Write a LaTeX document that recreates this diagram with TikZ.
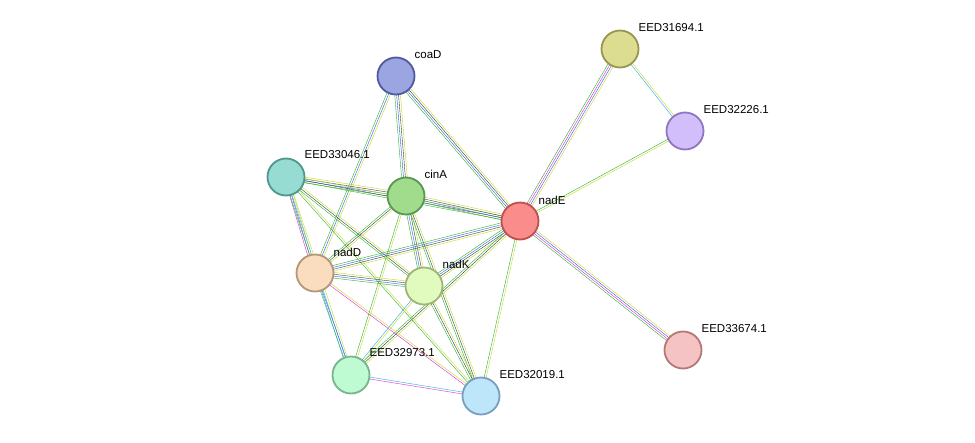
\documentclass[tikz,border=0pt]{standalone}
\usepackage{fontspec}
\setmainfont{Liberation Sans}
\usetikzlibrary{calc,backgrounds}
\definecolor{e_green}{RGB}{40,180,40}
\definecolor{e_yellow}{RGB}{200,215,40}
\definecolor{e_blue}{RGB}{60,90,230}
\definecolor{e_cyan}{RGB}{40,170,220}
\definecolor{e_mag}{RGB}{220,40,220}
\definecolor{e_dark}{RGB}{40,70,60}
% multi-line edge: #1,#2 nodes, #3 number of lines, #4 colours
\newcommand\medge[4]{%
  \foreach \c [count=\i] in {#4} {
    \pgfmathsetmacro\off{(\i-(#3+1)/2)*1.9}
    \draw[\c] ($(#1)!\off pt!90:(#2)$) -- ($(#2)!\off pt!-90:(#1)$);
  }}
\begin{document}
\begin{tikzpicture}[x=1pt,y=-1pt,line width=1.3pt]
    \tikzstyle{prot}=[circle, minimum size=37pt, line width=1.8pt, inner sep=0pt]
    \tikzstyle{lab}=[font=\fontsize{11.5}{13}\selectfont, inner sep=1pt]
    \useasboundingbox (0,0) rectangle (975,442);

    \node[prot,fill={rgb,255:red,155;green,165;blue,225},draw={rgb,255:red,80;green,90;blue,160}] (coaD) at (396,76) {};
    \node[prot,fill={rgb,255:red,221;green,221;blue,145},draw={rgb,255:red,150;green,150;blue,80}] (e31694) at (620,49) {};
    \node[prot,fill={rgb,255:red,210;green,190;blue,250},draw={rgb,255:red,140;green,120;blue,190}] (e32226) at (685,131) {};
    \node[prot,fill={rgb,255:red,150;green,220;blue,210},draw={rgb,255:red,80;green,150;blue,140}] (e33046) at (286,177) {};
    \node[prot,fill={rgb,255:red,160;green,220;blue,140},draw={rgb,255:red,90;green,150;blue,80}] (cinA) at (406,196) {};
    \node[prot,fill={rgb,255:red,250;green,140;blue,140},draw={rgb,255:red,190;green,80;blue,80}] (nadE) at (520,221) {};
    \node[prot,fill={rgb,255:red,250;green,220;blue,190},draw={rgb,255:red,180;green,150;blue,120}] (nadD) at (315,273) {};
    \node[prot,fill={rgb,255:red,225;green,250;blue,190},draw={rgb,255:red,160;green,180;blue,120}] (nadK) at (424,286) {};
    \node[prot,fill={rgb,255:red,190;green,250;blue,210},draw={rgb,255:red,120;green,180;blue,140}] (e32973) at (351,375) {};
    \node[prot,fill={rgb,255:red,190;green,230;blue,250},draw={rgb,255:red,120;green,160;blue,190}] (e32019) at (481,396) {};
    \node[prot,fill={rgb,255:red,245;green,195;blue,195},draw={rgb,255:red,180;green,120;blue,120}] (e33674) at (683,350) {};

    \node[lab,anchor=west] (lcoaD)  at (413,55)  {coaD};
    \node[lab,anchor=west] (l31694) at (637,28)  {EED31694.1};
    \node[lab,anchor=west] (l32226) at (702,110) {EED32226.1};
    \node[lab,anchor=west] (l33046) at (303,155) {EED33046.1};
    \node[lab,anchor=west] (lcinA)  at (423,174) {cinA};
    \node[lab,anchor=west] (lnadE)  at (537,200) {nadE};
    \node[lab,anchor=west] (lnadD)  at (332,252) {nadD};
    \node[lab,anchor=west] (lnadK)  at (441,264) {nadK};
    \node[lab,anchor=west] (l32973) at (368,353) {EED32973.1};
    \node[lab,anchor=west] (l32019) at (498,375) {EED32019.1};
    \node[lab,anchor=west] (l33674) at (700,329) {EED33674.1};

    \begin{pgfonlayer}{background}
    \medge{coaD}{nadE}{4}{e_green,e_blue,e_dark,e_yellow}
    \medge{coaD}{cinA}{4}{e_green,e_blue,e_dark,e_yellow}
    \medge{coaD}{nadD}{3}{e_green,e_blue,e_yellow}
    \medge{e31694}{nadE}{4}{e_green,e_mag,e_blue,e_yellow}
    \medge{e31694}{e32226}{2}{e_cyan,e_yellow}
    \medge{e32226}{nadE}{2}{e_green,e_yellow}
    \medge{e33046}{cinA}{4}{e_green,e_blue,e_dark,e_yellow}
    \medge{e33046}{nadE}{3}{e_green,e_dark,e_yellow}
    \medge{e33046}{nadD}{3}{e_mag,e_blue,e_yellow}
    \medge{e33046}{nadK}{3}{e_green,e_dark,e_yellow}
    \medge{e33046}{e32973}{3}{e_green,e_cyan,e_yellow}
    \medge{e33046}{e32019}{2}{e_green,e_yellow}
    \medge{cinA}{nadE}{4}{e_green,e_blue,e_dark,e_yellow}
    \medge{cinA}{nadD}{3}{e_green,e_dark,e_yellow}
    \medge{cinA}{nadK}{4}{e_green,e_blue,e_dark,e_yellow}
    \medge{cinA}{e32973}{2}{e_green,e_yellow}
    \medge{cinA}{e32019}{3}{e_green,e_dark,e_yellow}
    \medge{nadE}{nadD}{4}{e_green,e_blue,e_dark,e_yellow}
    \medge{nadE}{nadK}{4}{e_green,e_blue,e_dark,e_yellow}
    \medge{nadE}{e32973}{3}{e_green,e_dark,e_yellow}
    \medge{nadE}{e32019}{2}{e_green,e_yellow}
    \medge{nadE}{e33674}{4}{e_green,e_mag,e_blue,e_yellow}
    \medge{nadD}{nadK}{4}{e_green,e_blue,e_dark,e_yellow}
    \medge{nadD}{e32973}{2}{e_cyan,e_blue}
    \medge{nadD}{e32019}{2}{e_mag,e_yellow}
    \medge{nadK}{e32973}{2}{e_cyan,e_yellow}
    \medge{nadK}{e32019}{3}{e_green,e_dark,e_yellow}
    \medge{e32973}{e32019}{2}{e_mag,e_cyan}
    \end{pgfonlayer}
\end{tikzpicture}
\end{document}
